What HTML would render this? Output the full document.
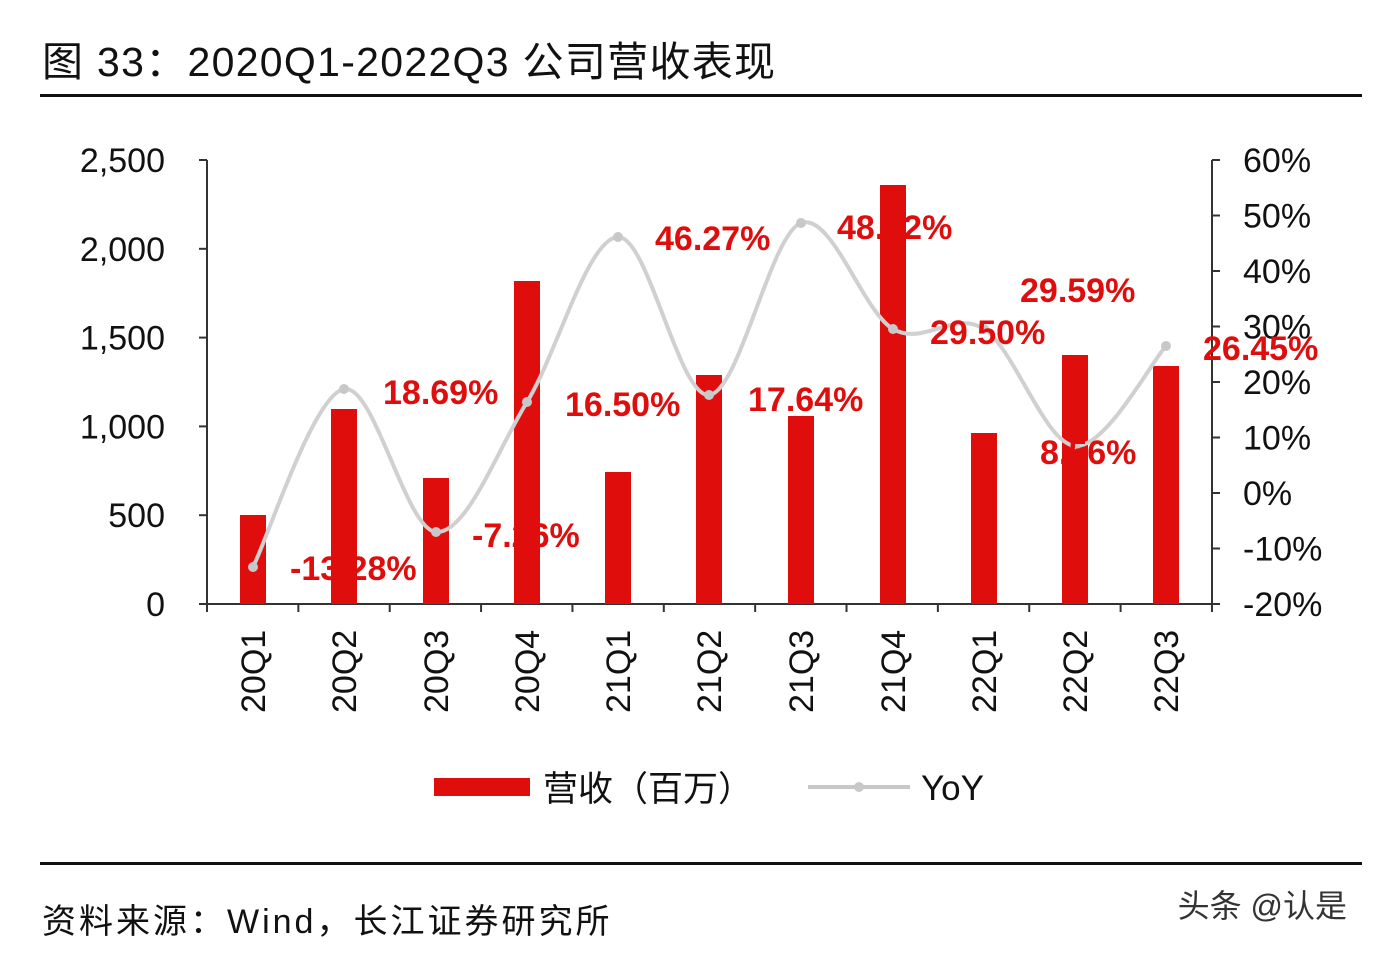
<!DOCTYPE html>
<html><head><meta charset="utf-8"><style>
body{margin:0;background:#fff;width:1374px;height:950px;overflow:hidden;font-family:"Liberation Sans","Noto Sans CJK SC",sans-serif;}
</style></head><body>
<svg id="s" width="1374" height="950" xmlns="http://www.w3.org/2000/svg" font-family="Liberation Sans, Noto Sans CJK SC, sans-serif">
<text x="42" y="76" font-size="41" fill="#111" letter-spacing="1.3">图  33：2020Q1-2022Q3 公司营收表现</text>
<rect x="40" y="94" width="1322" height="3" fill="#111"/>
<rect x="40" y="862" width="1322" height="3" fill="#111"/>
<text x="42" y="933" font-size="34" fill="#111" letter-spacing="3">资料来源：Wind，长江证券研究所</text>
<text x="1347" y="917" font-size="32" fill="#333" text-anchor="end">头条 @认是</text>
<g id="axes" stroke="#333" stroke-width="2" fill="none"></g>
<g id="bars" fill="#e00d0d"></g>
<path id="curve" fill="none" stroke="#d0d0d0" stroke-width="4"/>
<g id="pts" fill="#c8c8c8"></g>
<g id="txt" font-size="34" fill="#111"></g>
<g font-size="34" font-weight="bold" fill="#e00d0d">
<text x="290" y="580">-13.28%</text>
<text x="383" y="404">18.69%</text>
<text x="472" y="547">-7.26%</text>
<text x="565" y="416">16.50%</text>
<text x="655" y="250">46.27%</text>
<text x="748" y="411">17.64%</text>
<text x="837" y="239">48.72%</text>
<text x="930" y="344">29.50%</text>
<text x="1020" y="302">29.59%</text>
<text x="1040" y="464">8.56%</text>
<text x="1203" y="360">26.45%</text>
</g>
<rect x="434" y="778" width="96" height="18" fill="#e00d0d"/>
<text x="543" y="801" font-size="35" fill="#111">营收（百万）</text>
<line x1="808" y1="787" x2="910" y2="787" stroke="#c8c8c8" stroke-width="4"/>
<circle cx="859" cy="787" r="5" fill="#c8c8c8"/>
<text x="921" y="800" font-size="35" fill="#111">YoY</text>
</svg>
<script>
const NS="http://www.w3.org/2000/svg";
function el(p,t,a,txt){const e=document.createElementNS(NS,t);for(const k in a)e.setAttribute(k,a[k]);if(txt!==undefined)e.textContent=txt;document.getElementById(p).appendChild(e);return e;}
const xs=[253,344,436,527,618,709,801,893,984,1075,1166];
const tops=[515,409,478,281,472,375,416,185,433,355,366];
const ys=[567,389,532,402,237,395,223,329,329,446,346];
const cats=["20Q1","20Q2","20Q3","20Q4","21Q1","21Q2","21Q3","21Q4","22Q1","22Q2","22Q3"];
el("axes","line",{x1:207,y1:160,x2:207,y2:604});
el("axes","line",{x1:1212,y1:160,x2:1212,y2:604});
el("axes","line",{x1:207,y1:604,x2:1212,y2:604});
["0","500","1,000","1,500","2,000","2,500"].forEach((l,i)=>{const y=604-i*88.8;el("axes","line",{x1:199,y1:y,x2:207,y2:y});el("txt","text",{x:165,y:y+12,"text-anchor":"end"},l);});
["-20%","-10%","0%","10%","20%","30%","40%","50%","60%"].forEach((l,i)=>{const y=604-i*55.5;el("axes","line",{x1:1212,y1:y,x2:1220,y2:y});el("txt","text",{x:1243,y:y+12},l);});
for(let i=0;i<=11;i++){const x=207+i*91.36;el("axes","line",{x1:x,y1:604,x2:x,y2:612});}
xs.forEach((x,i)=>{el("bars","rect",{x:x-13,y:tops[i],width:26,height:604-tops[i]});
el("txt","text",{x:0,y:0,transform:`translate(${x+12},${713}) rotate(-90)`},cats[i]);
el("pts","circle",{cx:x,cy:ys[i],r:5});});
let d=`M${xs[0]},${ys[0]}`;
for(let i=0;i<xs.length-1;i++){const p0=[xs[Math.max(i-1,0)],ys[Math.max(i-1,0)]],p1=[xs[i],ys[i]],p2=[xs[i+1],ys[i+1]],p3=[xs[Math.min(i+2,10)],ys[Math.min(i+2,10)]];
const c1=[p1[0]+(p2[0]-p0[0])/6,p1[1]+(p2[1]-p0[1])/6],c2=[p2[0]-(p3[0]-p1[0])/6,p2[1]-(p3[1]-p1[1])/6];
d+=` C${c1[0]},${c1[1]} ${c2[0]},${c2[1]} ${p2[0]},${p2[1]}`;}
document.getElementById("curve").setAttribute("d",d);
</script>
</body></html>
